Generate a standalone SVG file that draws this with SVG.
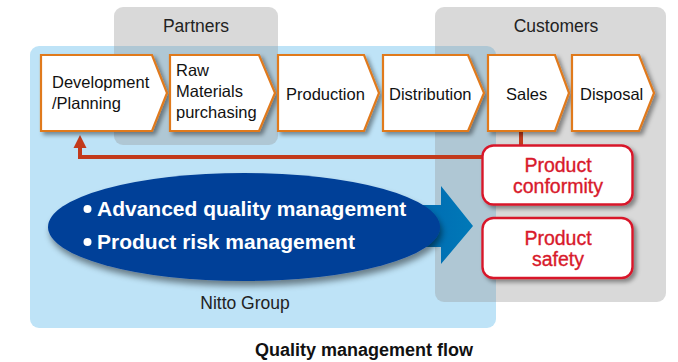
<svg xmlns="http://www.w3.org/2000/svg" width="678" height="362" viewBox="0 0 678 362">
<style>
.lbl{font-family:"Liberation Sans",Arial,sans-serif;font-size:16.5px;fill:#111}
.grp{font-family:"Liberation Sans",Arial,sans-serif;font-size:17.5px;fill:#222}
.chev{fill:#fff;stroke:#e07a1f;stroke-width:2.2;stroke-linejoin:miter}
.red{fill:#fff;stroke:#d8192b;stroke-width:2.4}
.rtxt{font-family:"Liberation Sans",Arial,sans-serif;font-size:19.5px;fill:#d8192b;stroke:#d8192b;stroke-width:0.35;text-anchor:middle}
.wtxt{font-family:"Liberation Sans",Arial,sans-serif;font-size:21px;font-weight:bold;fill:#fff}
.conn{fill:none;stroke:#c23a1c;stroke-width:4}
</style>
<defs>
<filter id="sh" x="-10%" y="-10%" width="130%" height="140%">
<feDropShadow dx="3" dy="3" stdDeviation="2" flood-color="#000" flood-opacity="0.4"/>
</filter>
<filter id="esh" x="-10%" y="-10%" width="125%" height="140%">
<feDropShadow dx="2" dy="5" stdDeviation="3" flood-color="#000" flood-opacity="0.45"/>
</filter>
<linearGradient id="ag" x1="0" y1="0" x2="1" y2="0">
<stop offset="0" stop-color="#00539e"/>
<stop offset="0.5" stop-color="#006cb2"/>
<stop offset="1" stop-color="#0079b8"/>
</linearGradient>
</defs>
<rect width="678" height="362" fill="#fff"/>
<g id="nitto-group">
<rect x="30" y="46" width="466" height="282" rx="9" fill="#bee3f7"/>
</g>
<g id="partners">
<rect x="114" y="7" width="164" height="138" rx="9" fill="#959595" fill-opacity="0.36"/>
<text class="grp" x="196" y="32" text-anchor="middle">Partners</text>
</g>
<g id="customers">
<rect x="435" y="7" width="231" height="295" rx="9" fill="#959595" fill-opacity="0.36"/>
<text class="grp" x="556" y="32" text-anchor="middle">Customers</text>
</g>
<g id="connectors">
<polyline class="conn" points="521,131 521,146"/>
<polyline class="conn" points="483,157 80,157 80,146"/>
<polygon points="80,135 86.5,148 73.5,148" fill="#c23a1c"/>
<path d="M370,205 L441,205 L441,186 L473,226 L441,264 L441,247 L370,247 Z" fill="url(#ag)"/>
</g>
<g id="ellipse">
<ellipse cx="244" cy="227" rx="196" ry="54" fill="#003f98" filter="url(#esh)"/>
<circle cx="87.5" cy="209" r="4" fill="#fff"/>
<circle cx="87.5" cy="242" r="4" fill="#fff"/>
<text class="wtxt" x="97" y="216">Advanced quality management</text>
<text class="wtxt" x="97" y="249">Product risk management</text>
</g>
<text class="grp" x="245" y="309" text-anchor="middle">Nitto Group</text>
<g id="development">
<polygon class="chev" filter="url(#sh)" points="41,55 152,55 167,93 152,131 41,131"/>
<text class="lbl" x="52" y="88">Development</text>
<text class="lbl" x="52" y="109">/Planning</text>
</g>
<g id="raw-materials">
<polygon class="chev" filter="url(#sh)" points="170,55 259,55 275,93 259,131 170,131"/>
<text class="lbl" x="176" y="76">Raw</text>
<text class="lbl" x="176" y="97">Materials</text>
<text class="lbl" x="176" y="118">purchasing</text>
</g>
<g id="production">
<polygon class="chev" filter="url(#sh)" points="278,55 364,55 379,93 364,131 278,131"/>
<text class="lbl" x="286" y="100">Production</text>
</g>
<g id="distribution">
<polygon class="chev" filter="url(#sh)" points="383,55 468,55 484,93 468,131 383,131"/>
<text class="lbl" x="389" y="100">Distribution</text>
</g>
<g id="sales">
<polygon class="chev" filter="url(#sh)" points="488,55 555,55 569,93 555,131 488,131"/>
<text class="lbl" x="506" y="100">Sales</text>
</g>
<g id="disposal">
<polygon class="chev" filter="url(#sh)" points="572,55 639,55 654,93 639,131 572,131"/>
<text class="lbl" x="580" y="100">Disposal</text>
</g>
<g id="product-conformity">
<rect class="red" filter="url(#sh)" x="482.5" y="145.5" width="150" height="59" rx="11"/>
<text class="rtxt" x="558" y="172">Product</text>
<text class="rtxt" x="558" y="193">conformity</text>
</g>
<g id="product-safety">
<rect class="red" filter="url(#sh)" x="482.5" y="218" width="150" height="60" rx="11"/>
<text class="rtxt" x="558" y="245">Product</text>
<text class="rtxt" x="558" y="266">safety</text>
</g>
<text x="364" y="356" text-anchor="middle" font-family="Liberation Sans, Arial, sans-serif" font-size="18" font-weight="bold" fill="#111">Quality management flow</text>
</svg>
